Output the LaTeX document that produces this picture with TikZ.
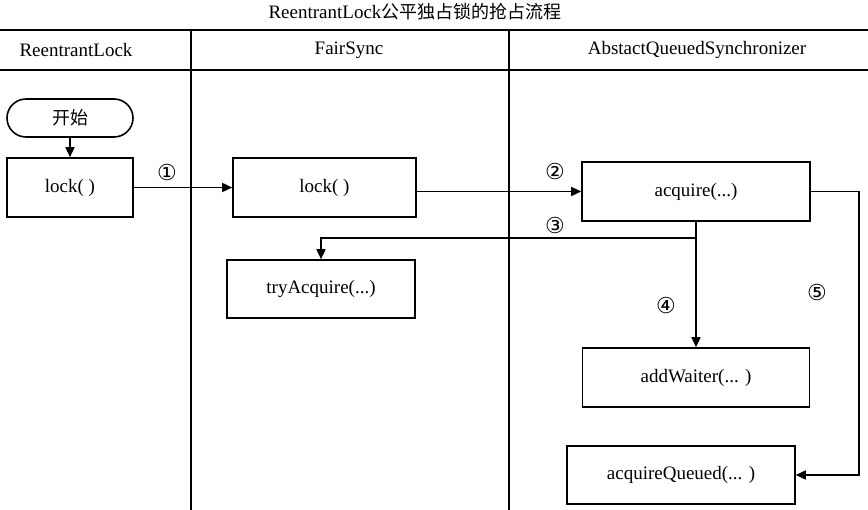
\documentclass[tikz,border=0pt]{standalone}
\usepackage{fontspec}
\setmainfont{Liberation Serif}
\newfontfamily\cjkfont{Noto Sans CJK SC}
\newfontfamily\symfont{DejaVu Sans}
\usetikzlibrary{arrows.meta}
\begin{document}
\begin{tikzpicture}[x=1pt,y=-1pt,
  every node/.style={font=\fontsize{19}{22}\selectfont},
  box/.style={draw,line width=1.6pt,rectangle,inner sep=0pt,anchor=center},
  term/.style={draw,line width=1.6pt,rectangle,rounded corners=19pt,inner sep=0pt,minimum width=126pt,minimum height=38pt},
  lane/.style={line width=1.6pt},
  conn/.style={line width=1.6pt,-{Triangle[length=10pt,width=9pt]}},
  num/.style={font=\symfont\fontsize{22}{24}\selectfont,inner sep=0pt}
]
\useasboundingbox (0,0) rectangle (868,510);
\fill[white] (0,0) rectangle (868,510);
% title
\node (title) at (415,12) {ReentrantLock{\cjkfont\fontsize{18}{20}\selectfont 公平独占锁的抢占流程}};
% lanes
\coordinate (tl) at (0,30);
\coordinate (tr) at (868,30);
\coordinate (hl) at (0,70);
\coordinate (hr) at (868,70);
\coordinate (v1t) at (191,30);
\coordinate (v1b) at (191,510);
\coordinate (v2t) at (509,30);
\coordinate (v2b) at (509,510);
\draw[lane] (tl) -- (tr);
\draw[lane] (hl) -- (hr);
\draw[lane] (v1t) -- (v1b);
\draw[lane] (v2t) -- (v2b);
\node (h1) at (76,50) {ReentrantLock};
\node (h2) at (349,50) {FairSync};
\node (h3) at (697,50) {AbstactQueuedSynchronizer};
% nodes
\node[term] (start) at (70,118) {\cjkfont\fontsize{18}{20}\selectfont 开始};
\node[box,minimum width=126pt,minimum height=59pt] (lock1) at (70,187.5) {lock( )};
\node[box,minimum width=183pt,minimum height=59pt] (lock2) at (324.5,187.5) {lock( )};
\node[box,minimum width=228pt,minimum height=59pt] (acq) at (696,191.5) {acquire(...)};
\node[box,minimum width=188pt,minimum height=58pt] (try) at (321,289) {tryAcquire(...)};
\node[box,minimum width=227pt,minimum height=59pt] (add) at (696,377.5) {addWaiter(... )};
\node[box,minimum width=228pt,minimum height=58pt] (aq) at (681,475) {acquireQueued(... )};
% connectors
\coordinate (b3) at (696,238);
\coordinate (r5a) at (859,191.5);
\coordinate (r5b) at (859,475);
\draw[conn] (start) -- (lock1);
\draw[conn] (lock1) -- (lock2);
\draw[conn] (acq.west -| lock2.east) -- (acq.west);
\draw[conn] (acq.south) -- (b3) -| (try.north);
\draw[conn] (acq.south) -- (add.north);
\draw[conn] (acq.east) -- (r5a) -- (r5b) -- (aq.east);
% labels
\node[num] (n1) at (167,172) {①};
\node[num] (n2) at (555,171) {②};
\node[num] (n3) at (555,225) {③};
\node[num] (n4) at (666,305) {④};
\node[num] (n5) at (817,292) {⑤};
\end{tikzpicture}
\end{document}
